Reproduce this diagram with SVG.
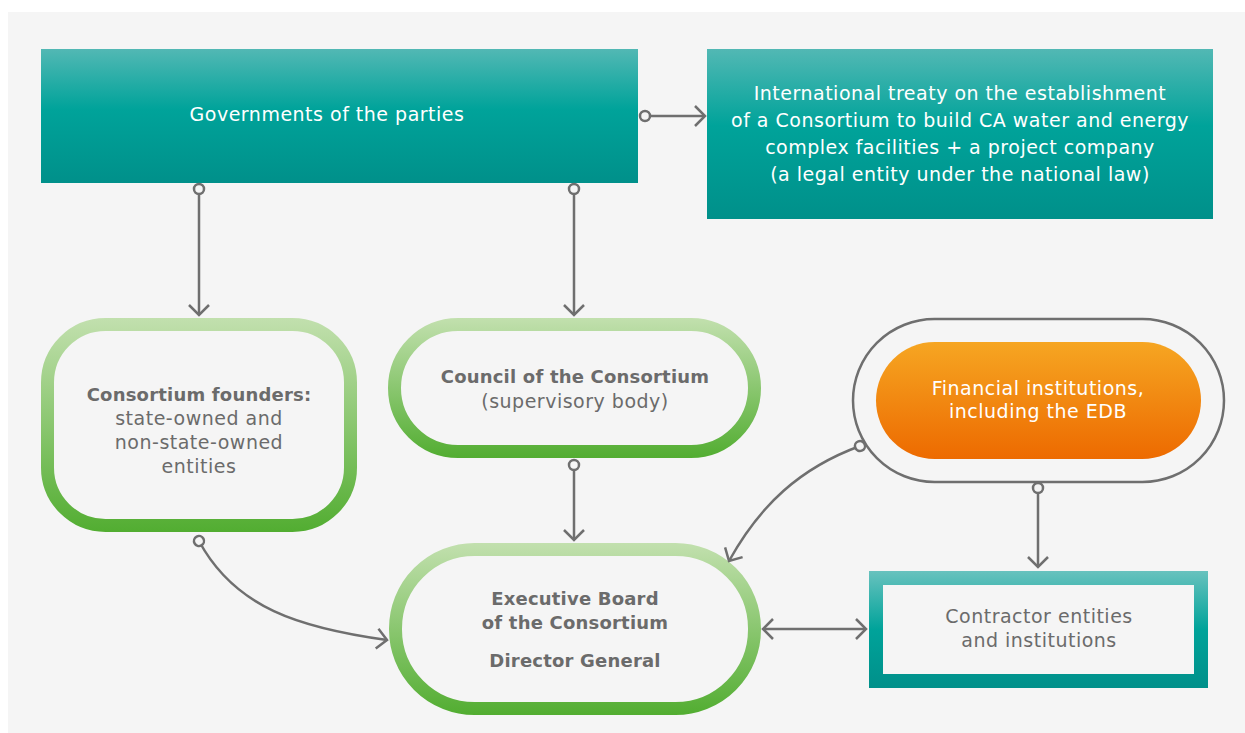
<svg xmlns="http://www.w3.org/2000/svg" width="1245" height="733" viewBox="0 0 1245 733">
<defs>
<linearGradient id="teal" x1="0" y1="0" x2="0" y2="1">
<stop offset="0" stop-color="#52b8b4"/><stop offset="0.45" stop-color="#00a39a"/><stop offset="1" stop-color="#00908a"/>
</linearGradient>
<linearGradient id="tealStroke" gradientUnits="userSpaceOnUse" x1="0" y1="571" x2="0" y2="688">
<stop offset="0" stop-color="#68c2be"/><stop offset="0.5" stop-color="#00a39a"/><stop offset="1" stop-color="#00908a"/>
</linearGradient>
<linearGradient id="orange" x1="0" y1="0" x2="0" y2="1">
<stop offset="0" stop-color="#f6a622"/><stop offset="1" stop-color="#ed6a00"/>
</linearGradient>
<linearGradient id="g1" gradientUnits="userSpaceOnUse" x1="0" y1="318" x2="0" y2="532">
<stop offset="0" stop-color="#c2e0ae"/><stop offset="1" stop-color="#52ad31"/>
</linearGradient>
<linearGradient id="g2" gradientUnits="userSpaceOnUse" x1="0" y1="318" x2="0" y2="458">
<stop offset="0" stop-color="#c2e0ae"/><stop offset="1" stop-color="#52ad31"/>
</linearGradient>
<linearGradient id="g3" gradientUnits="userSpaceOnUse" x1="0" y1="543" x2="0" y2="715">
<stop offset="0" stop-color="#c2e0ae"/><stop offset="1" stop-color="#52ad31"/>
</linearGradient>
<marker id="arr" markerUnits="userSpaceOnUse" viewBox="-12 -12 14 24" refX="0" refY="0" markerWidth="14" markerHeight="24" orient="auto-start-reverse">
<path d="M-10,-10 L0,0 L-10,10" fill="none" stroke="#6f6f6f" stroke-width="2.5"/>
</marker>
<marker id="dot" markerUnits="userSpaceOnUse" viewBox="-8 -8 16 16" refX="0" refY="0" markerWidth="16" markerHeight="16" orient="auto">
<circle r="5" fill="#f5f5f5" stroke="#6f6f6f" stroke-width="2.5"/>
</marker>
</defs>
<style>
.t{font-family:"DejaVu Sans","Noto Sans",sans-serif;font-size:19px;letter-spacing:0.5px;text-anchor:middle;fill:#6b6b6b}
.w{fill:#ffffff}
.b{font-weight:bold;font-size:18px;letter-spacing:0.2px}
.c{fill:none;stroke:#6f6f6f;stroke-width:2.5}
</style>
<rect x="0" y="0" width="1245" height="733" fill="#ffffff"/>
<rect x="8" y="12" width="1237" height="721" fill="#f5f5f5"/>

<g id="governments">
<rect x="41" y="49" width="597" height="134" fill="url(#teal)"/>
<text class="t w" x="327" y="121">Governments of the parties</text>
</g>
<g id="treaty">
<rect x="707" y="49" width="506" height="170" fill="url(#teal)"/>
<text class="t w" x="960" y="100">International treaty on the establishment</text>
<text class="t w" x="960" y="127">of a Consortium to build CA water and energy</text>
<text class="t w" x="960" y="154">complex facilities + a project company</text>
<text class="t w" x="960" y="181">(a legal entity under the national law)</text>
</g>
<g id="founders">
<rect x="47.5" y="324.5" width="303" height="201" rx="58" fill="#f5f5f5" stroke="url(#g1)" stroke-width="13"/>
<text class="t b" x="199" y="401">Consortium founders:</text>
<text class="t" x="199" y="425">state-owned and</text>
<text class="t" x="199" y="449">non-state-owned</text>
<text class="t" x="199" y="473">entities</text>
</g>
<g id="council">
<rect x="394.5" y="324.5" width="360" height="127" rx="63.5" fill="#f5f5f5" stroke="url(#g2)" stroke-width="13"/>
<text class="t b" x="575" y="383">Council of the Consortium</text>
<text class="t" x="575" y="408">(supervisory body)</text>
</g>
<g id="financial">
<rect x="853" y="319" width="371" height="163" rx="81.5" fill="#f5f5f5" stroke="#6f6f6f" stroke-width="2.5"/>
<rect x="876" y="342" width="325" height="117" rx="58.5" fill="url(#orange)"/>
<text class="t w" x="1038" y="395">Financial institutions,</text>
<text class="t w" x="1038" y="418">including the EDB</text>
</g>
<g id="executive">
<rect x="395.5" y="549.5" width="359" height="159" rx="79" fill="#f5f5f5" stroke="url(#g3)" stroke-width="13"/>
<text class="t b" x="575" y="605">Executive Board</text>
<text class="t b" x="575" y="629">of the Consortium</text>
<text class="t b" x="575" y="667">Director General</text>
</g>
<g id="contractor">
<rect x="876" y="578" width="325" height="103" fill="#f5f5f5" stroke="url(#tealStroke)" stroke-width="14"/>
<text class="t" x="1039" y="623">Contractor entities</text>
<text class="t" x="1039" y="647">and institutions</text>
</g>

<g id="connectors">
<path class="c" d="M645,116 L705,116" marker-start="url(#dot)" marker-end="url(#arr)"/>
<path class="c" d="M199,189 L199,315" marker-start="url(#dot)" marker-end="url(#arr)"/>
<path class="c" d="M574,189 L574,315" marker-start="url(#dot)" marker-end="url(#arr)"/>
<path class="c" d="M574,465 L574,540" marker-start="url(#dot)" marker-end="url(#arr)"/>
<path class="c" d="M1038,488 L1038,567" marker-start="url(#dot)" marker-end="url(#arr)"/>
<path class="c" d="M199,541 C235,608 300,628 387,640" marker-start="url(#dot)" marker-end="url(#arr)"/>
<path class="c" d="M860,446 C800,468 760,505 729,561" marker-start="url(#dot)" marker-end="url(#arr)"/>
<path class="c" d="M763,629 L866,629" marker-start="url(#arr)" marker-end="url(#arr)"/>
</g>
</svg>
